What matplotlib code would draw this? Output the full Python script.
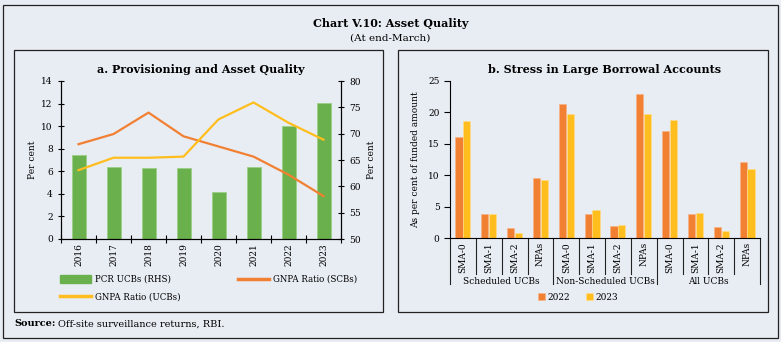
import numpy as np
import matplotlib
matplotlib.use('Agg')
import matplotlib.pyplot as plt
from matplotlib.patches import Rectangle, Patch
from matplotlib.lines import Line2D

plt.rcParams['font.family'] = 'DejaVu Serif'

# panel a data
years = ['2016', '2017', '2018', '2019', '2020', '2021', '2022', '2023']
pcr_ucb = [66.0, 63.7, 63.4, 63.5, 59.0, 63.7, 71.4, 75.8]
gnpa_scb = [8.4, 9.3, 11.2, 9.1, 8.2, 7.3, 5.7, 3.8]
gnpa_ucb = [6.1, 7.2, 7.2, 7.3, 10.6, 12.1, 10.3, 8.8]

# panel b data
groups = ['Scheduled UCBs', 'Non-Scheduled UCBs', 'All UCBs']
cats = ['SMA-0', 'SMA-1', 'SMA-2', 'NPAs']
v2022 = [16.1, 3.8, 1.6, 9.6, 21.3, 3.9, 1.9, 23.0, 17.1, 3.85, 1.7, 12.1]
v2023 = [18.6, 3.8, 0.85, 9.2, 19.8, 4.5, 2.1, 19.7, 18.8, 3.95, 1.1, 11.0]

bg = '#e8edf4'
green = '#6ab04c'
orange = '#f28032'
yellow = '#ffbe1e'

fig = plt.figure(figsize=(7.81, 3.42), dpi=100, facecolor=bg)
W, H = 781, 342

def box(x0, y0, x1, y1):
    fig.patches.append(Rectangle((x0 / W, 1 - y1 / H), (x1 - x0) / W, (y1 - y0) / H,
                                 transform=fig.transFigure, fill=False,
                                 edgecolor='#222222', lw=0.9))

box(3, 5, 778, 338)
box(14, 50, 383, 312)
box(398, 50, 768, 312)

fig.text(0.5, 1 - 23 / H, 'Chart V.10: Asset Quality', ha='center', va='center',
         fontsize=8, fontweight='bold')
fig.text(0.5, 1 - 38 / H, '(At end-March)', ha='center', va='center', fontsize=7.5)
fig.text(14 / W, 1 - 324 / H, 'Source:', ha='left', va='center', fontsize=7,
         fontweight='bold')
fig.text(58 / W, 1 - 324 / H, 'Off-site surveillance returns, RBI.', ha='left',
         va='center', fontsize=7)

def axrect(x0, y0, x1, y1):
    return [x0 / W, 1 - y1 / H, (x1 - x0) / W, (y1 - y0) / H]

# ---- panel a
ax = fig.add_axes(axrect(61, 81, 341, 239))
ax2 = ax.twinx()
ax.set_zorder(ax2.get_zorder() + 1)
ax.patch.set_visible(False)
ax2.patch.set_visible(False)

x = np.arange(len(years))
ax2.bar(x, np.array(pcr_ucb) - 50, bottom=50, width=0.4, color=green,
        edgecolor='#9ccf86', lw=0.6, label='PCR UCBs (RHS)')
ax.plot(x, gnpa_scb, color=orange, lw=1.6, label='GNPA Ratio (SCBs)')
ax.plot(x, gnpa_ucb, color=yellow, lw=1.6, label='GNPA Ratio (UCBs)')

ax.set_xlim(-0.5, len(years) - 0.5)
ax.set_ylim(0, 14)
ax.set_yticks(range(0, 15, 2))
ax2.set_ylim(50, 80)
ax2.set_yticks(range(50, 81, 5))
ax.set_xticks(x)
ax.set_xticklabels(years, rotation=90, fontsize=6.5)
ax.set_xticks(np.arange(-0.5, len(years)), minor=True)
ax.tick_params(axis='x', which='major', length=0, pad=3)
ax.tick_params(axis='x', which='minor', length=6, direction='inout', width=0.8)
ax.tick_params(axis='y', labelsize=6.5, length=5, direction='inout', width=0.8)
ax2.tick_params(axis='y', labelsize=6.5, length=5, direction='inout', width=0.8)
for a in (ax, ax2):
    a.spines['top'].set_visible(False)
    a.spines['bottom'].set_linewidth(0.8)
    a.spines['left'].set_linewidth(0.8)
    a.spines['right'].set_linewidth(0.8)
ax.set_ylabel('Per cent', fontsize=6.5, labelpad=3)
ax2.set_ylabel('Per cent', fontsize=6.5, labelpad=4)
ax.set_title('a. Provisioning and Asset Quality', fontsize=8, fontweight='bold', pad=6)

handles = [Patch(color=green), Line2D([], [], color=orange, lw=2.5),
           Line2D([], [], color=yellow, lw=2.5)]
labels = ['PCR UCBs (RHS)', 'GNPA Ratio (SCBs)', 'GNPA Ratio (UCBs)']
h_order = [handles[0], handles[2], handles[1]]
l_order = [labels[0], labels[2], labels[1]]
leg = fig.legend(h_order, l_order, ncol=2, loc='center left',
                 bbox_to_anchor=(52 / W, 1 - 288 / H), frameon=False, fontsize=6.2,
                 handlelength=3.6, handleheight=0.9, columnspacing=6.6,
                 labelspacing=0.95, handletextpad=0.5)

# ---- panel b
bx = fig.add_axes(axrect(450, 81, 760, 238))
bx.patch.set_visible(False)
n = len(v2022)
xb = np.arange(n)
bx.bar(xb - 0.15, v2022, width=0.28, color=orange, edgecolor='#f7b48a', lw=0.5,
       label='2022')
bx.bar(xb + 0.15, v2023, width=0.28, color=yellow, edgecolor='#ffdc8a', lw=0.5,
       label='2023')
bx.set_xlim(-0.5, n - 0.5)
bx.set_ylim(0, 25)
bx.set_yticks(range(0, 26, 5))
bx.set_xticks(xb)
bx.set_xticklabels(cats * len(groups), rotation=90, fontsize=6.5)
bx.tick_params(axis='x', length=0, pad=3)
bx.tick_params(axis='y', labelsize=6.5, length=4, direction='out', width=0.8)
bx.spines['top'].set_visible(False)
bx.spines['right'].set_visible(False)
bx.spines['left'].set_linewidth(0.8)
bx.spines['bottom'].set_linewidth(0.8)
bx.set_ylabel('As per cent of funded amount', fontsize=6.5, labelpad=6)
bx.set_title('b. Stress in Large Borrowal Accounts', fontsize=8, fontweight='bold', pad=6)

tr = bx.get_xaxis_transform()
plot_h = 238 - 81
for i in range(n + 1):
    depth = 46 if i % 4 == 0 else 36
    bx.plot([i - 0.5, i - 0.5], [0, -depth / plot_h], transform=tr, color='#222222',
            lw=0.8, clip_on=False)
for g, name in enumerate(groups):
    bx.text(g * 4 + 1.5, -43 / plot_h, name, transform=tr, ha='center', va='center',
            fontsize=6.5)

fig.legend(*bx.get_legend_handles_labels(), ncol=2, loc='center',
           bbox_to_anchor=(578 / W, 1 - 297 / H), frameon=False, fontsize=6.5,
           handlelength=0.8, handleheight=0.8, handletextpad=0.2, columnspacing=1.8)

fig.savefig('out.png', dpi=100, facecolor=bg)
